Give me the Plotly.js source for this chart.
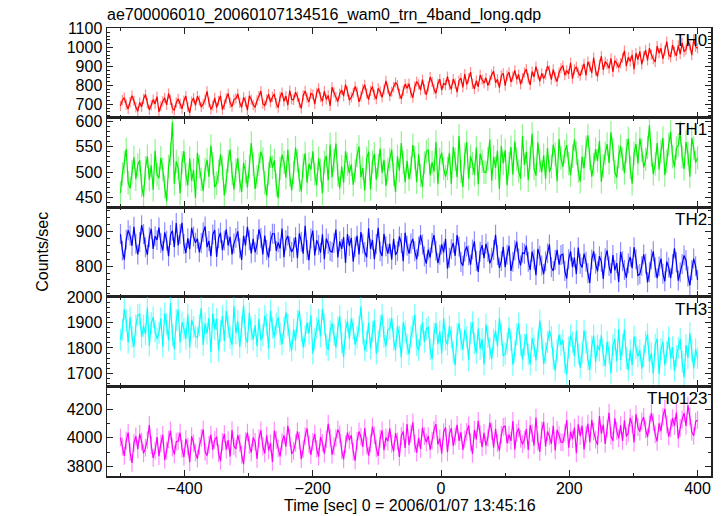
<!DOCTYPE html>
<html>
<head>
<meta charset="utf-8">
<script src="https://cdn.plot.ly/plotly-3.0.1.min.js"></script>
<style>html,body{margin:0;padding:0;background:#fff;}#chart{width:724px;height:516px;}</style>
</head>
<body>
<div id="chart"></div>
<script>
var chartTitle = "ae700006010_20060107134516_wam0_trn_4band_long.qdp";
var xTitle = "Time [sec] 0 = 2006/01/07 13:45:16";
var yTitle = "Counts/sec";
var bandNames = ["TH0", "TH1", "TH2", "TH3", "TH0123"];

var timeSec = [
-500,-497,-494,-491,-488,-485,-482,-479,-476,-473,
-470,-467,-464,-461,-458,-455,-452,-449,-446,-443,
-440,-437,-434,-431,-428,-425,-422,-419,-416,-413,
-410,-407,-404,-401,-398,-395,-392,-389,-386,-383,
-380,-377,-374,-371,-368,-365,-362,-359,-356,-353,
-350,-347,-344,-341,-338,-335,-332,-329,-326,-323,
-320,-317,-314,-311,-308,-305,-302,-299,-296,-293,
-290,-287,-284,-281,-278,-275,-272,-269,-266,-263,
-260,-257,-254,-251,-248,-245,-242,-239,-236,-233,
-230,-227,-224,-221,-218,-215,-212,-209,-206,-203,
-200,-197,-194,-191,-188,-185,-182,-179,-176,-173,
-170,-167,-164,-161,-158,-155,-152,-149,-146,-143,
-140,-137,-134,-131,-128,-125,-122,-119,-116,-113,
-110,-107,-104,-101,-98,-95,-92,-89,-86,-83,
-80,-77,-74,-71,-68,-65,-62,-59,-56,-53,
-50,-47,-44,-41,-38,-35,-32,-29,-26,-23,
-20,-17,-14,-11,-8,-5,-2,1,4,7,
10,13,16,19,22,25,28,31,34,37,
40,43,46,49,52,55,58,61,64,67,
70,73,76,79,82,85,88,91,94,97,
100,103,106,109,112,115,118,121,124,127,
130,133,136,139,142,145,148,151,154,157,
160,163,166,169,172,175,178,181,184,187,
190,193,196,199,202,205,208,211,214,217,
220,223,226,229,232,235,238,241,244,247,
250,253,256,259,262,265,268,271,274,277,
280,283,286,289,292,295,298,301,304,307,
310,313,316,319,322,325,328,331,334,337,
340,343,346,349,352,355,358,361,364,367,
370,373,376,379,382,385,388,391,394,397,
400];

var th0 = [
692,722,735,699,676,713,746,719,684,663,
710,687,729,752,707,671,695,725,702,741,
660,691,716,734,697,757,724,679,668,709,
729,703,676,720,744,687,655,714,733,695,
743,720,686,702,725,769,710,673,693,734,
683,719,745,672,699,732,757,708,688,725,
731,755,708,684,737,714,669,745,725,697,
684,721,744,770,704,693,725,754,711,739,
754,705,683,739,762,716,744,696,773,726,
724,764,741,707,679,747,771,735,713,757,
751,701,761,784,738,717,770,726,747,692,
790,763,738,715,757,776,743,804,769,722,
737,760,794,767,713,742,780,803,756,725,
771,794,750,728,785,768,737,778,824,783,
743,767,791,816,802,755,729,773,807,785,
809,761,735,793,820,805,775,830,780,750,
795,844,818,780,758,809,833,775,812,801,
847,802,780,833,809,764,825,838,790,860,
804,837,870,808,782,825,793,855,830,812,
839,799,826,857,874,814,832,788,851,864,
799,853,869,818,846,879,832,857,806,838,
867,886,837,803,873,845,899,860,822,864,
836,858,903,878,830,885,843,821,868,890,
904,854,879,861,919,836,885,898,867,851,
883,914,853,925,901,866,947,877,847,910,
954,882,926,912,890,943,871,931,916,895,
918,945,983,902,949,927,961,886,970,936,
980,911,954,986,932,997,963,939,924,1008,
970,996,940,984,1031,963,949,1014,978,956,
1011,965,1025,978,989,1032,1013,960,1043,1005,
995];

var th1 = [
459,496,519,545,479,468,500,529,486,514,
523,474,452,508,531,485,513,465,542,495,
488,528,505,471,443,511,535,598,477,521,
508,458,518,541,495,474,527,483,504,449,
538,511,486,463,505,524,491,552,517,470,
478,501,535,508,454,483,521,544,497,466,
504,527,483,461,518,501,470,511,557,516,
467,491,515,540,526,479,453,497,531,509,
523,475,449,507,534,519,489,544,494,464,
499,548,522,484,462,513,537,479,516,505,
541,496,474,527,503,458,519,532,484,554,
490,523,556,494,468,511,479,541,516,498,
515,475,502,533,550,490,508,464,527,540,
466,520,536,485,513,546,499,524,473,505,
525,544,495,461,531,503,557,518,480,522,
486,508,553,528,480,535,493,471,518,540,
544,494,519,501,559,476,525,538,507,491,
507,538,477,549,525,490,571,501,471,534,
559,487,531,517,495,548,476,536,521,500,
499,526,564,483,530,508,542,467,551,517,
543,474,517,549,495,560,526,502,487,571,
514,540,484,528,575,507,493,558,522,500,
533,487,547,500,511,554,535,482,565,527,
510,540,553,517,494,531,564,537,502,481,
530,507,549,572,527,491,515,545,522,561,
481,512,537,555,518,578,545,500,489,530,
551,525,498,542,566,509,477,536,555,517,
566,543,509,525,548,592,533,496,516,557,
505,541,567,494,521,554,579,530,510,547,
553,577,530,506,559,536,491,567,547,519,
528];

var th2 = [
893,845,819,877,904,889,859,914,864,834,
870,919,893,855,833,884,908,850,887,876,
912,867,845,898,874,829,890,903,855,925,
860,893,926,864,838,881,849,911,886,868,
880,840,867,898,915,855,873,829,892,905,
827,881,897,846,874,907,860,885,834,866,
882,901,852,818,888,860,914,875,837,879,
840,862,907,882,834,889,847,825,872,894,
894,844,869,851,909,826,875,888,857,841,
853,884,823,895,871,836,917,847,817,880,
903,831,875,861,839,892,820,880,865,844,
841,868,906,825,872,850,884,809,893,859,
882,813,856,888,834,899,865,841,826,910,
850,876,820,864,911,843,829,894,858,836,
865,819,879,832,843,886,867,814,897,859,
836,866,879,843,820,857,890,863,828,807,
848,825,867,890,845,809,833,863,840,879,
793,824,849,867,830,890,857,812,801,842,
857,831,804,848,872,815,783,842,861,823,
865,842,808,824,847,891,832,795,815,856,
797,833,859,786,813,846,871,822,802,839,
836,860,813,789,842,819,774,850,830,802,
777,814,837,863,797,786,818,847,804,832,
835,786,764,820,843,797,825,777,854,807,
796,836,813,779,751,819,843,807,785,829,
813,763,823,846,800,779,832,788,809,754,
841,814,789,766,808,827,794,855,820,773,
777,800,834,807,753,782,820,843,796,765,
799,822,778,756,813,796,765,806,852,811,
758,782,806,831,817,770,744,788,822,800,
760];

var th3 = [
1832,1871,1952,1907,1821,1920,1844,1805,1889,1929,
1932,1842,1887,1854,1959,1809,1897,1921,1865,1836,
1860,1916,1806,1936,1893,1830,1976,1850,1796,1909,
1951,1822,1901,1876,1836,1931,1802,1910,1883,1845,
1840,1889,1957,1812,1896,1857,1918,1783,1934,1873,
1914,1790,1867,1925,1828,1945,1883,1840,1813,1964,
1858,1905,1804,1883,1968,1845,1820,1937,1872,1833,
1889,1807,1915,1830,1850,1927,1893,1798,1947,1879,
1842,1896,1920,1855,1814,1880,1940,1891,1828,1790,
1872,1830,1906,1947,1866,1802,1845,1899,1857,1928,
1778,1834,1879,1911,1845,1953,1893,1812,1792,1866,
1897,1851,1802,1881,1924,1822,1764,1870,1905,1836,
1916,1875,1813,1842,1884,1963,1857,1790,1826,1900,
1798,1863,1909,1778,1827,1886,1931,1843,1807,1873,
1875,1918,1833,1790,1886,1844,1763,1900,1864,1814,
1775,1842,1883,1930,1811,1791,1849,1901,1824,1874,
1883,1795,1756,1856,1898,1815,1865,1779,1918,1833,
1813,1885,1843,1782,1732,1854,1897,1832,1793,1872,
1842,1752,1860,1901,1818,1781,1876,1797,1835,1736,
1892,1843,1798,1757,1832,1867,1807,1917,1854,1769,
1777,1818,1880,1831,1734,1786,1854,1896,1811,1755,
1813,1854,1775,1736,1838,1808,1752,1826,1908,1835,
1737,1780,1823,1868,1843,1758,1711,1791,1852,1812,
1830,1743,1696,1801,1849,1822,1768,1867,1777,1723,
1781,1869,1822,1754,1714,1806,1849,1745,1811,1791,
1850,1769,1730,1825,1782,1701,1811,1834,1748,1874,
1753,1812,1872,1760,1713,1791,1733,1845,1800,1767,
1791,1719,1768,1824,1854,1746,1779,1699,1813,1836,
1698,1795,1824,1732,1783,1842,1758,1803,1711,1768,
1801,1835,1747,1685,1811,1761,1858,1788,1720,1795,
1760];

var th0123 = [
4001,3939,3874,3980,4037,3900,3824,3965,4011,3920,
4028,3973,3891,3930,3985,4090,3949,3860,3908,4006,
3872,3959,4021,3846,3911,3990,4050,3932,3884,3973,
3978,4036,3923,3866,3993,3938,3830,4012,3964,3897,
3854,3942,3998,4060,3902,3875,3952,4022,3918,3986,
4008,3891,3838,3972,4027,3917,3984,3869,4054,3941,
3923,4019,3964,3882,3815,3978,4036,3949,3896,4002,
3972,3852,3996,4052,3941,3891,4018,3912,3963,3831,
4050,3986,3926,3870,3971,4017,3938,4084,4000,3887,
3909,3964,4046,3981,3851,3921,4012,4067,3955,3880,
3972,4027,3922,3869,4006,3965,3890,3989,4099,4001,
3883,3940,3998,4058,4024,3912,3849,3955,4036,3984,
4018,3903,3840,3979,4044,4008,3936,4068,3948,3876,
3962,4079,4017,3926,3873,3995,4053,3914,4003,3976,
4066,3958,3905,4033,3975,3867,4013,4045,3929,4097,
3949,4029,4108,3959,3897,4000,3923,4072,4012,3969,
4013,3917,3981,4056,4097,3953,3996,3890,4041,4073,
3899,4028,4067,3944,4011,4091,3978,4038,3915,3992,
4042,4087,3970,3888,4056,3989,4119,4025,3934,4035,
3946,3999,4107,4047,3932,4064,3963,3910,4023,4076,
4082,3962,4022,3979,4118,3919,4036,4067,3993,3955,
3988,4063,3916,4089,4031,3947,4142,3974,3902,4053,
4112,3939,4044,4011,3958,4085,3912,4056,4020,3970,
3969,4034,4125,3931,4044,3991,4072,3892,4094,4012,
4085,3919,4023,4099,3970,4126,4044,3987,3951,4152,
4030,4092,3958,4064,4176,4013,3980,4136,4049,3996,
4089,3979,4123,4010,4036,4140,4094,3967,4166,4075,
4043,4115,4146,4060,4005,4094,4173,4108,4024,3974,
4102,4047,4148,4203,4095,4009,4066,4138,4083,4177,
3995,4069,4129,4173,4084,4228,4149,4041,4014,4113,
4125];

var bandErrors = [27, 23, 29, 43, 62];

var series = [th0, th1, th2, th3, th0123];
var lineColors = ["#ff0000", "#00ee00", "#0000ff", "#00ffff", "#ff00ff"];
var errColors = ["rgba(255,0,0,0.45)", "rgba(0,230,0,0.45)", "rgba(0,0,255,0.45)", "rgba(0,255,255,0.55)", "rgba(255,0,255,0.45)"];
var yRanges = [[630, 1103], [431, 607], [711, 971], [1649, 2001], [3733, 4360]];
var yDticks = [100, 50, 100, 100, 200];
var yMinor = [20, 10, 20, 20, 100];

(function () {
  var FONT = "Liberation Sans, Arial, Helvetica, sans-serif";
  var AXC = "#222";
  var traces = [];
  var layout = {
    width: 724, height: 516,
    margin: {l: 107, r: 13, t: 28, b: 40},
    paper_bgcolor: "#fff", plot_bgcolor: "#fff",
    showlegend: false,
    font: {family: FONT, size: 16, color: "#000"},
    title: {text: chartTitle, x: 107/724, xanchor: "left", xref: "container", y: 1 - 14/516, yanchor: "middle", yref: "container", font: {family: FONT, size: 16, color: "#000"}},
    annotations: []
  };

  for (var i = 0; i < 5; i++) {
    var n = i + 1;
    var xk = n === 1 ? "x" : "x" + n;
    var yk = n === 1 ? "y" : "y" + n;
    traces.push({
      x: timeSec, y: series[i], xaxis: xk, yaxis: yk,
      type: "scatter", mode: "lines",
      line: {color: lineColors[i], width: 1.2, simplify: false},
      error_y: {type: "constant", value: bandErrors[i], color: errColors[i], thickness: 1.2, width: 0},
      hoverinfo: "skip"
    });
    var dTop = 1 - i * 0.2, dBot = 1 - (i + 1) * 0.2;
    if (dBot < 0.0001) dBot = 0;
    var xa = {
      anchor: yk,
      range: [-521, 421], tick0: 0, dtick: 200,
      ticks: "inside", ticklen: 6, tickwidth: 1, tickcolor: AXC,
      minor: {dtick: 100, ticks: "inside", ticklen: 3, tickcolor: AXC, tickwidth: 1},
      mirror: "ticks", showline: true, linecolor: AXC, linewidth: 1.5,
      showgrid: false, zeroline: false,
      showticklabels: n === 5,
      tickfont: {family: FONT, size: 16, color: "#000"}
    };
    if (n > 1) xa.matches = "x";
    if (n === 5) xa.ticklabelstandoff = -3;
    layout["xaxis" + (n === 1 ? "" : n)] = xa;
    layout["yaxis" + (n === 1 ? "" : n)] = {
      anchor: xk, domain: [dBot, dTop],
      range: yRanges[i], tick0: 0, dtick: yDticks[i],
      ticks: "inside", ticklen: 6, tickwidth: 1, tickcolor: AXC,
      minor: {dtick: yMinor[i], ticks: "inside", ticklen: 3, tickcolor: AXC, tickwidth: 1},
      mirror: "ticks", showline: true, linecolor: AXC, linewidth: 1.5,
      showgrid: false, zeroline: false,
      tickfont: {family: FONT, size: 16, color: "#000"}
    };
    layout.annotations.push({
      text: bandNames[i], xref: "paper", yref: "paper",
      x: 0.997, y: dTop - 0.002, xanchor: "right", yanchor: "top",
      showarrow: false, font: {family: FONT, size: 17, color: "#000"}
    });
  }
  layout.annotations.push({
    text: yTitle, xref: "paper", yref: "paper", x: -0.108, y: 0.5,
    xanchor: "center", yanchor: "middle", textangle: -90, showarrow: false,
    font: {family: FONT, size: 16, color: "#000"}
  });
  layout.annotations.push({
    text: xTitle, xref: "paper", yref: "paper", x: 0.502, y: -0.0885,
    xanchor: "center", yanchor: "bottom", showarrow: false,
    font: {family: FONT, size: 16, color: "#000"}
  });

  Plotly.newPlot("chart", traces, layout, {staticPlot: true, displayModeBar: false});
})();
</script>
</body>
</html>
